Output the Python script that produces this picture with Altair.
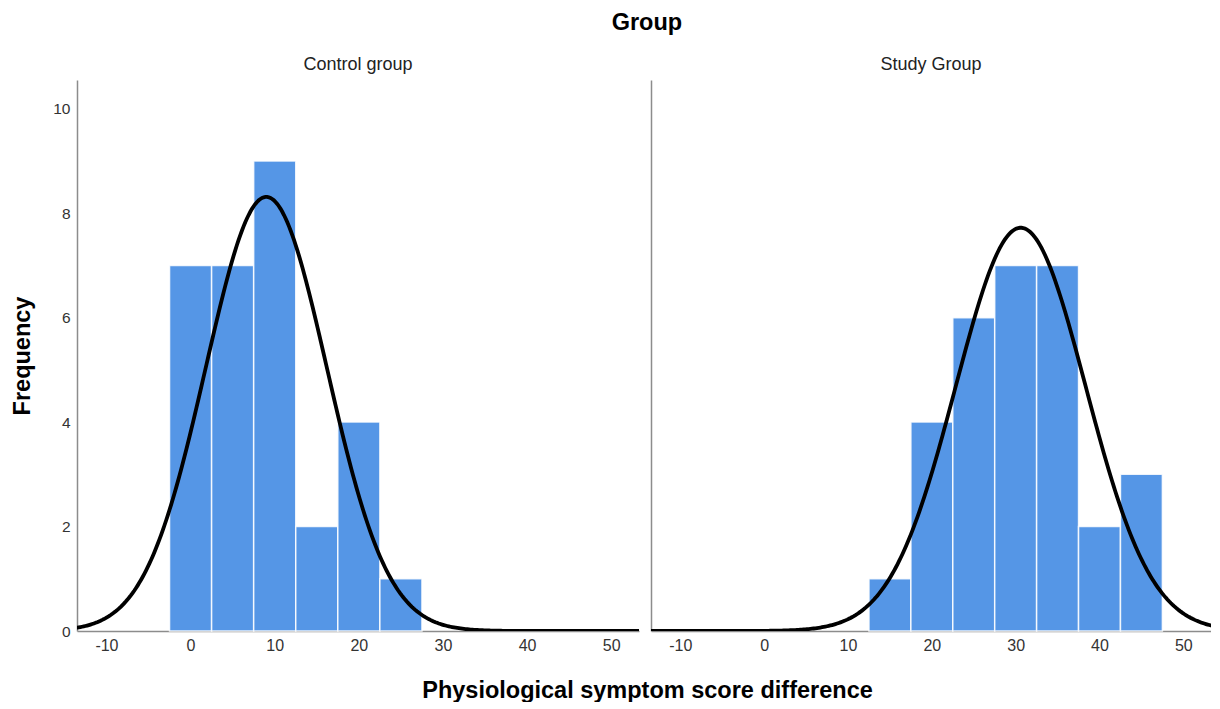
import altair as alt
import pandas as pd

# ---- data ----
groups = ["Control group", "Study Group"]
bin_starts_control = [-2.5, 2.5, 7.5, 12.5, 17.5, 22.5]
counts_control = [7, 7, 9, 2, 4, 1]
bin_starts_study = [12.5, 17.5, 22.5, 27.5, 32.5, 37.5, 42.5]
counts_study = [1, 4, 6, 7, 7, 2, 3]
bin_width = 5
means = [9.0, 30.6]
sds = [7.2, 7.75]
ns = [30, 30]
x_ticks = [-10, 0, 10, 20, 30, 40, 50]
y_ticks = [0, 2, 4, 6, 8, 10]
x_domain = [-13.5, 53.3]
y_domain = [0, 10.55]

FONT = "Liberation Sans"
BAR = "#5596e6"
AXIS_GRAY = "#8c8c8c"
LABEL_COLOR = "#333333"


def panel(name, starts, counts, mean, sd, n, first):
    df = pd.DataFrame({
        "start": starts,
        "end": [s + bin_width for s in starts],
        "count": counts,
    })
    xs = alt.Scale(domain=x_domain, nice=False, zero=False)
    ys = alt.Scale(domain=y_domain, nice=False)
    xaxis_kw = dict(values=x_ticks, ticks=False, grid=False, labelFontSize=16,
                    labelColor=LABEL_COLOR, labelPadding=6, labelFont=FONT,
                    labelExpr="toString(datum.value)",
                    domainColor=AXIS_GRAY, domainWidth=1.5)
    if first:
        xaxis = alt.Axis(title="Physiological symptom score difference",
                         titleFontSize=23.5, titleFontWeight="bold", titleFont=FONT,
                         titleColor="black", titleX=570, titlePadding=25,
                         **xaxis_kw)
        yaxis = alt.Axis(values=y_ticks, ticks=False, grid=False, labelFontSize=15.5,
                         labelColor=LABEL_COLOR, labelPadding=7, labelFont=FONT,
                         domainColor=AXIS_GRAY, domainWidth=1.5,
                         title="Frequency", titleFontSize=23.5, titleFontWeight="bold",
                         titleFont=FONT, titleColor="black", titlePadding=18)
    else:
        xaxis = alt.Axis(title=None, **xaxis_kw)
        yaxis = alt.Axis(values=y_ticks, ticks=False, grid=False, labels=False,
                         domainColor=AXIS_GRAY, domainWidth=1.5, title=None)

    bars = alt.Chart(df).mark_rect(color=BAR, stroke="white", strokeWidth=1.5,
                                   strokeOpacity=0.85).encode(
        x=alt.X("start:Q", scale=xs, axis=xaxis),
        x2="end:Q",
        y=alt.Y("count:Q", scale=ys, axis=yaxis),
        y2=alt.datum(0),
    )

    k = n * bin_width
    curve = alt.Chart(alt.sequence(x_domain[0] - 1, x_domain[1] + 1, 0.2, as_="x")).transform_calculate(
        freq=f"{k}/({sd}*sqrt(2*PI))*exp(-0.5*pow((datum.x-{mean})/{sd},2))"
    ).mark_line(color="black", strokeWidth=3.8, clip=True).encode(
        x=alt.X("x:Q", scale=xs, axis=xaxis),
        y=alt.Y("freq:Q", scale=ys, axis=yaxis),
    )

    return alt.layer(bars, curve).properties(
        width=562 if first else 560, height=551,
        title=alt.TitleParams(name, fontSize=18, fontWeight="normal", font=FONT,
                              color="#222222", offset=6.5),
    )


left = panel(groups[0], bin_starts_control, counts_control, means[0], sds[0], ns[0], True)
right = panel(groups[1], bin_starts_study, counts_study, means[1], sds[1], ns[1], False)

chart = alt.hconcat(left, right, spacing=12, bounds="flush").properties(
    title=alt.TitleParams("Group", fontSize=23.5, fontWeight="bold", font=FONT,
                          color="black", anchor="middle", offset=21, dx=36),
    padding={"left": 2, "top": 3, "right": 0, "bottom": 0},
).configure_view(stroke=None)

chart.save("out.html", embed_options={"renderer": "svg", "actions": False})
